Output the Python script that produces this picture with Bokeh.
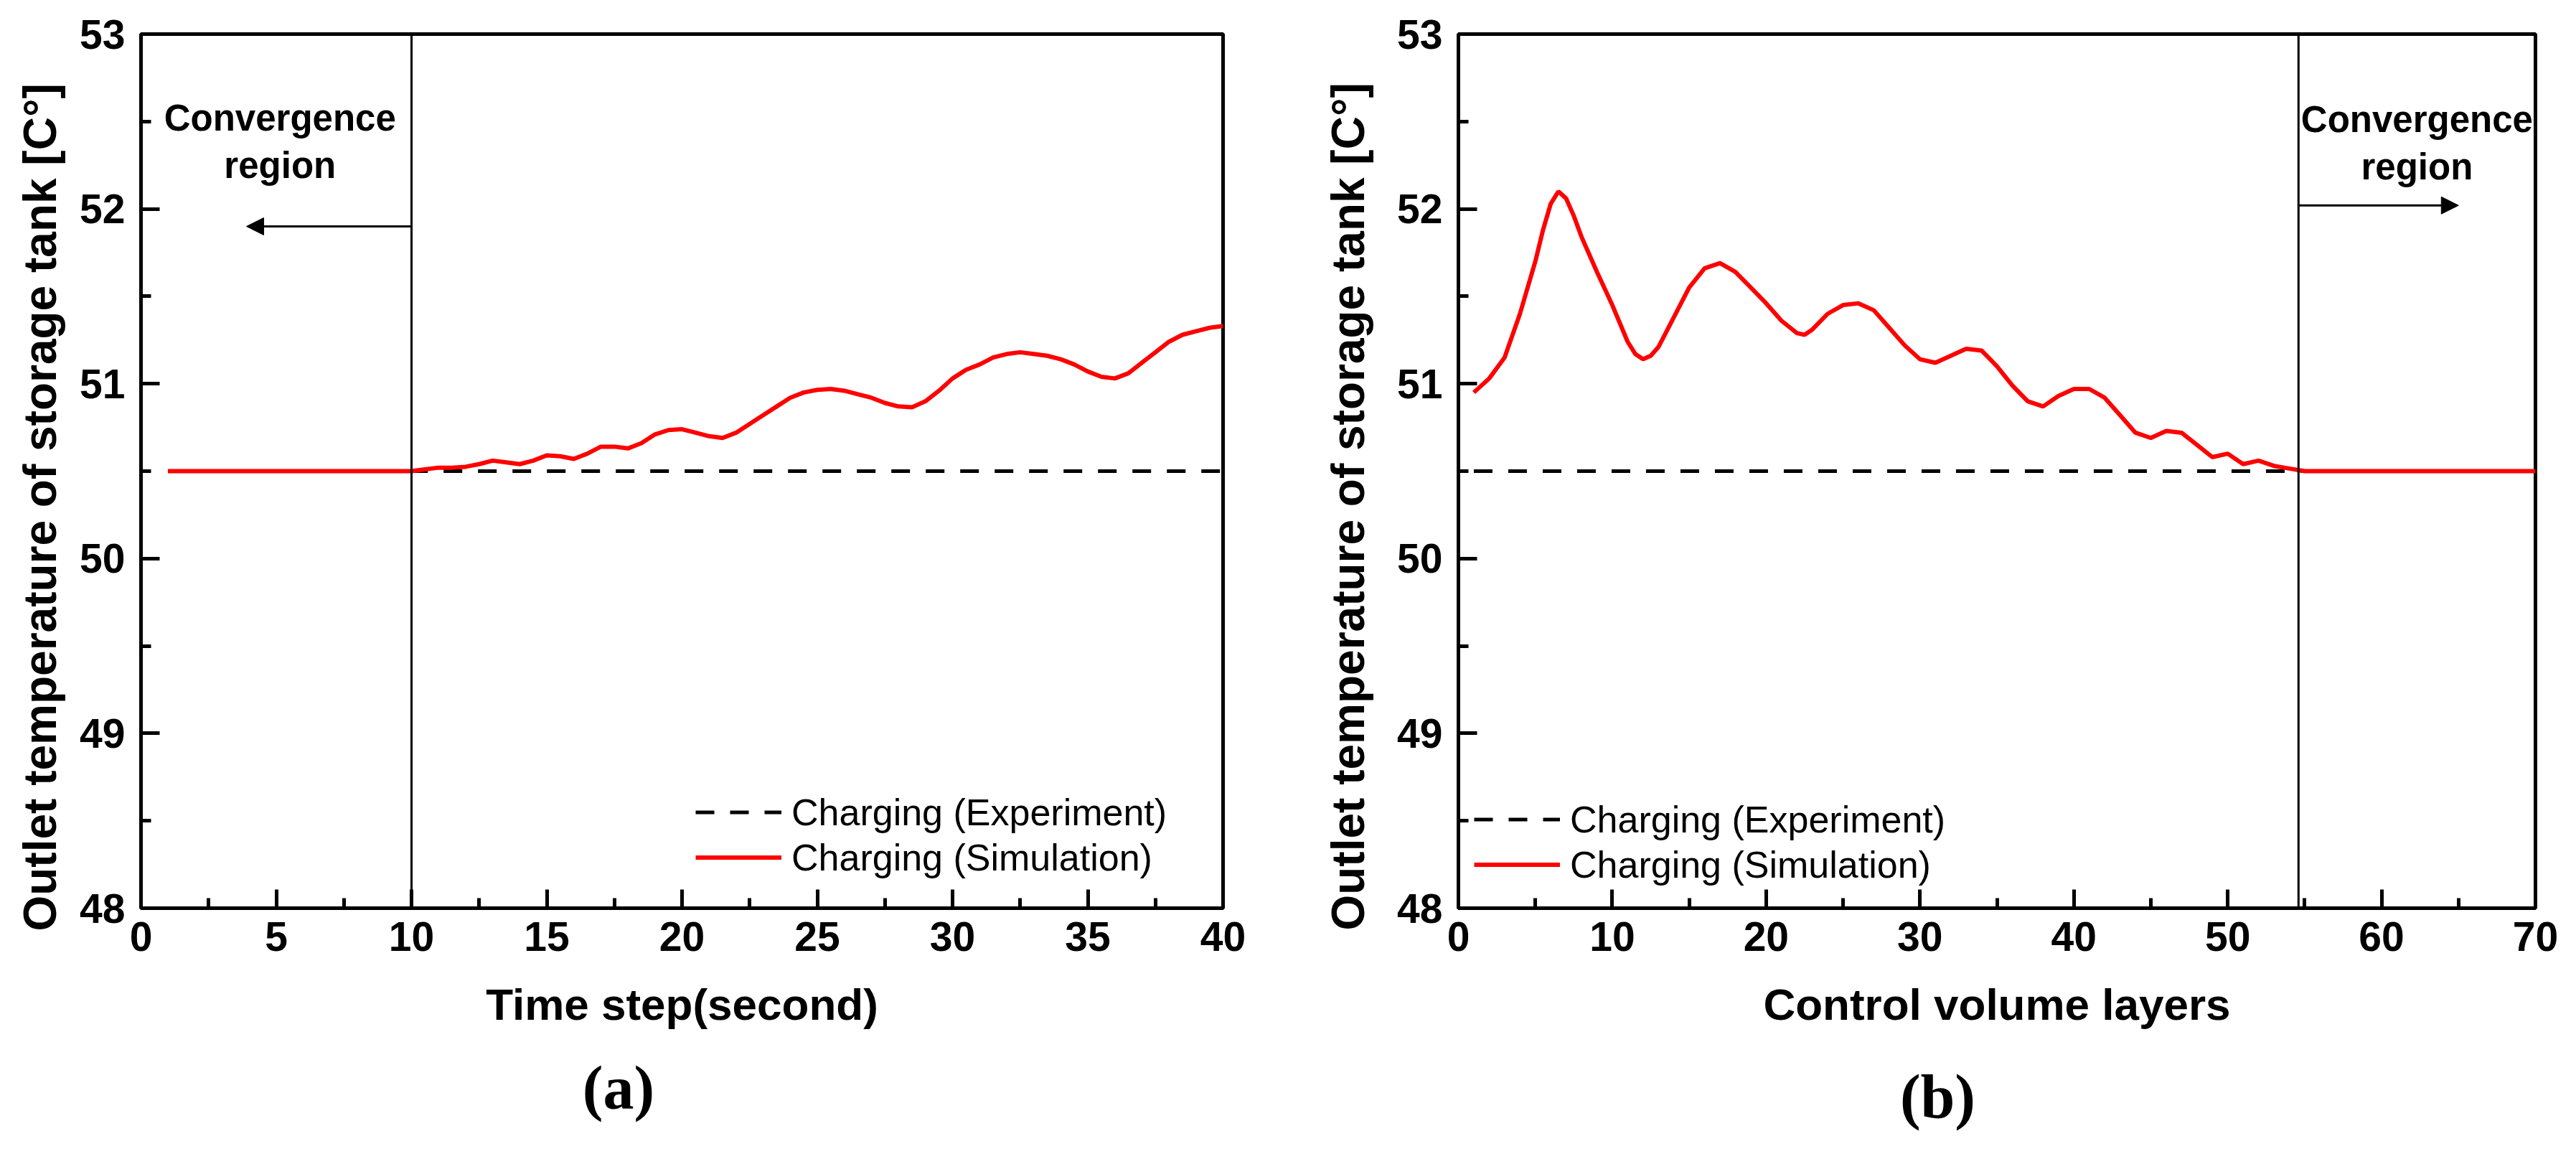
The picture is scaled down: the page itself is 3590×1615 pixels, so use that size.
from bokeh.plotting import figure
from bokeh.models import (Range1d, SingleIntervalTicker, FixedTicker, Span, Arrow,
                          NormalHead, Label, Legend, LegendItem, Title, LinearAxis)
from bokeh.layouts import row
from bokeh.embed import file_html
from bokeh.resources import INLINE

# ---------------- data: panel (a) ----------------
a_time = [1, 2, 3, 4, 5, 6, 7, 8, 9, 10, 10.5, 11, 11.5, 12, 12.5, 13, 13.5, 14, 14.5,
          15, 15.5, 16, 16.5, 17, 17.5, 18, 18.5, 19, 19.5, 20, 20.5, 21, 21.5, 22,
          22.5, 23, 23.5, 24, 24.5, 25, 25.5, 26, 26.5, 27, 27.5, 28, 28.5, 29, 29.5,
          30, 30.5, 31, 31.5, 32, 32.5, 33, 33.5, 34, 34.5, 35, 35.5, 36, 36.5, 37,
          37.5, 38, 38.5, 39, 39.5, 40]
a_sim = [50.50, 50.50, 50.50, 50.50, 50.50, 50.50, 50.50, 50.50, 50.50, 50.50, 50.51,
         50.52, 50.52, 50.525, 50.54, 50.56, 50.55, 50.54, 50.56, 50.59, 50.585, 50.57,
         50.60, 50.64, 50.64, 50.63, 50.66, 50.71, 50.735, 50.74, 50.72, 50.70, 50.69,
         50.72, 50.77, 50.82, 50.87, 50.92, 50.95, 50.965, 50.97, 50.96, 50.94, 50.92,
         50.89, 50.87, 50.865, 50.90, 50.96, 51.03, 51.08, 51.11, 51.15, 51.17, 51.18,
         51.17, 51.16, 51.14, 51.11, 51.07, 51.04, 51.03, 51.06, 51.12, 51.18, 51.24,
         51.28, 51.30, 51.32, 51.33]
a_exp_x = [1, 40]
a_exp_y = [50.5, 50.5]

# ---------------- data: panel (b) ----------------
b_layer = [1, 2, 3, 4, 5, 5.5, 6, 6.5, 7, 7.5, 8, 9, 10, 11, 11.5, 12, 12.5, 13, 14, 15,
           16, 17, 18, 19, 20, 21, 22, 22.5, 23, 24, 25, 26, 27, 28, 29, 30, 31, 32, 33,
           34, 35, 36, 37, 38, 39, 40, 41, 42, 43, 44, 45, 46, 47, 48, 49, 50, 51, 52,
           53, 54, 55, 70]
b_sim = [50.95, 51.03, 51.15, 51.40, 51.70, 51.88, 52.03, 52.10, 52.06, 51.96, 51.84,
         51.64, 51.45, 51.24, 51.17, 51.14, 51.16, 51.21, 51.38, 51.55, 51.66, 51.69,
         51.64, 51.55, 51.46, 51.36, 51.29, 51.28, 51.31, 51.40, 51.45, 51.46, 51.42,
         51.32, 51.22, 51.14, 51.12, 51.16, 51.20, 51.19, 51.10, 50.99, 50.90, 50.87,
         50.93, 50.97, 50.97, 50.92, 50.82, 50.72, 50.69, 50.73, 50.72, 50.65, 50.58,
         50.60, 50.54, 50.56, 50.53, 50.515, 50.50, 50.50]
b_exp_x = [1, 70]
b_exp_y = [50.5, 50.5]

y_label = "Outlet temperature of storage tank [C°]"
legend_labels = ["Charging (Experiment)", "Charging (Simulation)"]

SANS = "Liberation Sans"
SERIF = "Liberation Serif"


def make_panel(width, height, borders, xmax, xint, xs, ys, ex, ey, xlabel,
               conv_dir_end, split_x, arrow_y, conv_text_x, conv_y1, conv_y2,
               legend_loc, ylab_offset, ylab_standoff, tag, tag_x, tag_standoff):
    p = figure(width=width, height=height, output_backend="svg", toolbar_location=None,
               x_range=Range1d(0, xmax), y_range=Range1d(48, 53),
               min_border_left=borders[0], min_border_right=borders[1],
               min_border_top=borders[2], min_border_bottom=borders[3])
    p.background_fill_color = "white"
    p.border_fill_color = "white"
    p.outline_line_color = "black"
    p.outline_line_width = 5
    p.xgrid.visible = False
    p.ygrid.visible = False

    p.xaxis.ticker = SingleIntervalTicker(interval=xint, num_minor_ticks=2)
    p.yaxis.ticker = SingleIntervalTicker(interval=1, num_minor_ticks=2)
    for ax in (p.xaxis, p.yaxis):
        ax.axis_line_width = 5
        ax.major_tick_line_width = 5
        ax.minor_tick_line_width = 5
        ax.major_tick_in = 26
        ax.major_tick_out = 0
        ax.minor_tick_in = 14
        ax.minor_tick_out = 0
        ax.major_label_text_font = SANS
        ax.major_label_text_font_style = "bold"
        ax.major_label_text_font_size = "57px"
        ax.major_label_text_color = "black"
        ax.axis_label_text_font = SANS
        ax.axis_label_text_font_style = "bold"
        ax.axis_label_text_color = "black"
    p.xaxis.axis_label = xlabel
    p.xaxis.axis_label_text_font_size = "62px"
    p.xaxis.major_label_standoff = 19
    p.xaxis.axis_label_standoff = 37
    p.yaxis.major_label_standoff = 22

    # y-axis title (shifted downward along the axis as in the original)
    p.add_layout(Title(text=y_label, align="left", offset=ylab_offset,
                       standoff=ylab_standoff, text_font=SANS, text_font_style="bold",
                       text_font_size="64px", text_color="black"), "left")

    r_exp = p.line(ex, ey, line_color="black", line_width=5, line_dash="26 22")
    r_sim = p.line(xs, ys, line_color="#ff0000", line_width=6)

    p.add_layout(Span(location=split_x, dimension="height", line_color="black",
                      line_width=3))
    p.add_layout(Arrow(x_start=split_x, y_start=arrow_y, x_end=conv_dir_end, y_end=arrow_y,
                       line_width=3, line_color="black",
                       end=NormalHead(size=24, fill_color="black", line_color="black")))
    for txt, yy in (("Convergence", conv_y1), ("region", conv_y2)):
        p.add_layout(Label(x=conv_text_x, y=yy, text=txt, text_align="center",
                           text_baseline="alphabetic", text_font=SANS,
                           text_font_style="bold", text_font_size="51px",
                           text_color="black"))

    legend = Legend(items=[LegendItem(label=legend_labels[0], renderers=[r_exp]),
                           LegendItem(label=legend_labels[1], renderers=[r_sim])],
                    location=legend_loc, padding=0, spacing=0, margin=0,
                    glyph_width=120, glyph_height=63, label_height=63,
                    label_standoff=14, border_line_color=None,
                    background_fill_alpha=0,
                    label_text_font=SANS, label_text_font_size="52px",
                    label_text_color="black")
    p.add_layout(legend)

    # panel tag "(a)" / "(b)" below the axis title (a bare axis carrying one label)
    tag_axis = LinearAxis(ticker=FixedTicker(ticks=[tag_x]),
                          major_label_overrides={tag_x: tag},
                          axis_line_color=None, major_tick_line_color=None,
                          minor_tick_line_color=None, major_tick_in=0, major_tick_out=0,
                          minor_tick_in=0, minor_tick_out=0,
                          major_label_standoff=tag_standoff,
                          major_label_text_font=SERIF, major_label_text_font_style="bold",
                          major_label_text_font_size="86px", major_label_text_color="black")
    p.add_layout(tag_axis, "below")
    return p


pa = make_panel(1782, 1599, (195, 78, 47, 324), 40, 5, a_time, a_sim, a_exp_x, a_exp_y,
                "Time step(second)", 3.9, 10, 51.9, 5.14, 52.52, 52.25,
                (773, 39), -32, 34, "(a)", 17.65, 31)
pb = make_panel(1792, 1599, (250, 41, 39, 334), 70, 10, b_layer, b_sim, b_exp_x, b_exp_y,
                "Control volume layers", 65.0, 54.6, 52.02, 62.3, 52.51, 52.24,
                (22, 29), -31, 60, "(b)", 31.15, 43)

layout = row(pa, pb)
open("out.html", "w").write(file_html(layout, INLINE))
